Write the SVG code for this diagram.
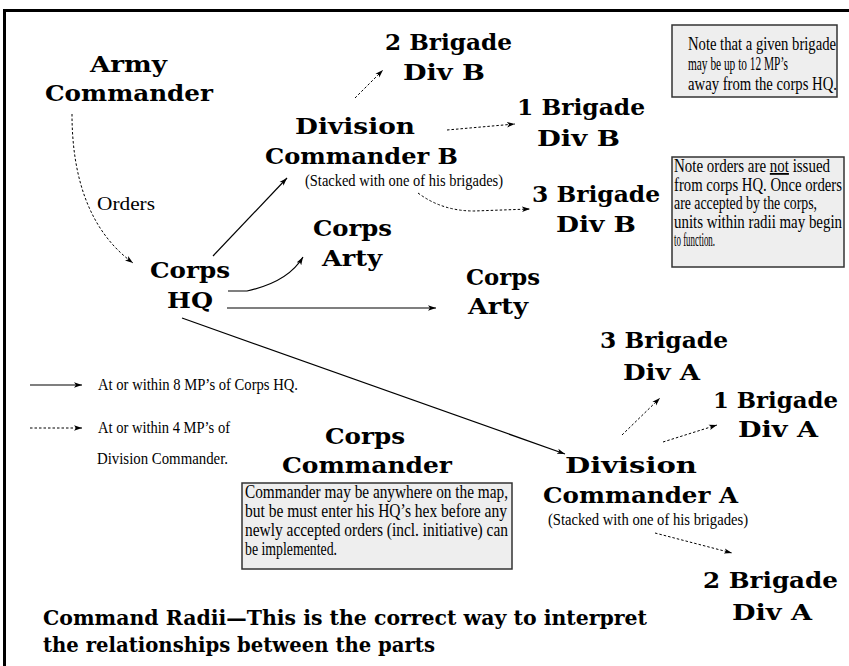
<svg xmlns="http://www.w3.org/2000/svg" width="849" height="666" viewBox="0 0 849 666">
<style>
.lbl{font-family:"DejaVu Serif","Liberation Serif",serif;font-weight:bold;font-size:23px;fill:#000}
.ttl{font-family:"DejaVu Serif","Liberation Serif",serif;font-weight:bold;font-size:20px;fill:#000}
.note{font-family:"Liberation Serif","Times New Roman",serif;font-size:18px;fill:#000}
.small{font-family:"Liberation Serif","Times New Roman",serif;font-size:16px;fill:#000}
.box{fill:#eeeeee;stroke:#333;stroke-width:1.5}
.solid{fill:none;stroke:#000;stroke-width:1.2}
.dash{fill:none;stroke:#000;stroke-width:1;stroke-dasharray:2.5,2}
</style>
<defs>
<marker id="ah" markerUnits="userSpaceOnUse" markerWidth="9" markerHeight="7" refX="8" refY="3.5" orient="auto">
<path d="M0,0.8 L8,3.5 L0,6.2 L2,3.5 Z" fill="#000"/>
</marker>
</defs>
<rect width="849" height="666" fill="#fff"/>
<g id="frame">
<line x1="3" y1="10.5" x2="849" y2="10.5" stroke="#000" stroke-width="3"/>
<line x1="4.5" y1="9" x2="4.5" y2="666" stroke="#000" stroke-width="3"/>
</g>
<g id="connectors">
<path class="dash" d="M72,114 C72,175 88,230 133,263" marker-end="url(#ah)"/>
<line class="solid" x1="213" y1="256" x2="287" y2="178" marker-end="url(#ah)"/>
<path class="solid" d="M228,291 L247,291 Q288,282 303,257" marker-end="url(#ah)"/>
<line class="solid" x1="227" y1="308" x2="436" y2="308" marker-end="url(#ah)"/>
<line class="solid" x1="182" y1="318" x2="565" y2="454" marker-end="url(#ah)"/>
<line class="dash" x1="355" y1="98" x2="383" y2="70" marker-end="url(#ah)"/>
<line class="dash" x1="447" y1="130" x2="515" y2="124" marker-end="url(#ah)"/>
<path class="dash" d="M418,193 Q442,211 474,211 L530,209" marker-end="url(#ah)"/>
<line class="dash" x1="622" y1="435" x2="660" y2="398" marker-end="url(#ah)"/>
<line class="dash" x1="663" y1="442" x2="717" y2="425" marker-end="url(#ah)"/>
<line class="dash" x1="655" y1="533" x2="732" y2="553" marker-end="url(#ah)"/>
</g>
<g id="army-commander">
<text class="lbl" x="90" y="72" textLength="77" lengthAdjust="spacingAndGlyphs">Army</text>
<text class="lbl" x="45" y="101" textLength="168" lengthAdjust="spacingAndGlyphs">Commander</text>
</g>
<g id="orders-label">
<text class="note" x="97" y="210" textLength="58" lengthAdjust="spacingAndGlyphs">Orders</text>
</g>
<g id="corps-hq">
<text class="lbl" x="150" y="278" textLength="80" lengthAdjust="spacingAndGlyphs">Corps</text>
<text class="lbl" x="167" y="308" textLength="46" lengthAdjust="spacingAndGlyphs">HQ</text>
</g>
<g id="corps-arty-1">
<text class="lbl" x="313" y="236" textLength="79" lengthAdjust="spacingAndGlyphs">Corps</text>
<text class="lbl" x="322" y="266" textLength="60" lengthAdjust="spacingAndGlyphs">Arty</text>
</g>
<g id="corps-arty-2">
<text class="lbl" x="466" y="285" textLength="74" lengthAdjust="spacingAndGlyphs">Corps</text>
<text class="lbl" x="468" y="314" textLength="60" lengthAdjust="spacingAndGlyphs">Arty</text>
</g>
<g id="div-cmdr-b">
<text class="lbl" x="295" y="134" textLength="120" lengthAdjust="spacingAndGlyphs">Division</text>
<text class="lbl" x="265" y="164" textLength="193" lengthAdjust="spacingAndGlyphs">Commander B</text>
<text class="small" x="305" y="186" textLength="198" lengthAdjust="spacingAndGlyphs">(Stacked with one of his brigades)</text>
</g>
<g id="brig-2-b">
<text class="lbl" x="385" y="50" textLength="127" lengthAdjust="spacingAndGlyphs">2 Brigade</text>
<text class="lbl" x="403" y="80" textLength="82" lengthAdjust="spacingAndGlyphs">Div B</text>
</g>
<g id="brig-1-b">
<text class="lbl" x="517" y="115" textLength="128" lengthAdjust="spacingAndGlyphs">1 Brigade</text>
<text class="lbl" x="537" y="146" textLength="83" lengthAdjust="spacingAndGlyphs">Div B</text>
</g>
<g id="brig-3-b">
<text class="lbl" x="532" y="202" textLength="128" lengthAdjust="spacingAndGlyphs">3 Brigade</text>
<text class="lbl" x="556" y="232" textLength="80" lengthAdjust="spacingAndGlyphs">Div B</text>
</g>
<g id="note-12mp">
<rect class="box" x="672" y="25" width="165" height="72"/>
<text class="note" x="688" y="50" textLength="148" lengthAdjust="spacingAndGlyphs">Note that a given brigade</text>
<text class="note" x="688" y="70" textLength="100" lengthAdjust="spacingAndGlyphs">may be up to 12 MP’s</text>
<text class="note" x="688" y="90" textLength="149" lengthAdjust="spacingAndGlyphs">away from the corps HQ.</text>
</g>
<g id="note-orders">
<rect class="box" x="672" y="157" width="172" height="110"/>
<text class="note" x="674" y="172" textLength="156" lengthAdjust="spacingAndGlyphs">Note orders are <tspan text-decoration="underline">not</tspan> issued</text>
<text class="note" x="674" y="190.5" textLength="168" lengthAdjust="spacingAndGlyphs">from corps HQ. Once orders</text>
<text class="note" x="674" y="209" textLength="143" lengthAdjust="spacingAndGlyphs">are accepted by the corps,</text>
<text class="note" x="674" y="227.5" textLength="168" lengthAdjust="spacingAndGlyphs">units within radii may begin</text>
<text class="note" x="674" y="246" textLength="41" lengthAdjust="spacingAndGlyphs">to function.</text>
</g>
<g id="legend">
<line class="solid" x1="30" y1="385" x2="82" y2="385" stroke="#999" marker-end="url(#ah)"/>
<text class="small" x="98" y="390" textLength="200" lengthAdjust="spacingAndGlyphs">At or within 8 MP’s of Corps HQ.</text>
<line class="dash" x1="30" y1="428" x2="82" y2="428" marker-end="url(#ah)"/>
<text class="small" x="98" y="433" textLength="132" lengthAdjust="spacingAndGlyphs">At or within 4 MP’s of</text>
<text class="small" x="97" y="464" textLength="131" lengthAdjust="spacingAndGlyphs">Division Commander.</text>
</g>
<g id="brig-3-a">
<text class="lbl" x="600" y="348" textLength="128" lengthAdjust="spacingAndGlyphs">3 Brigade</text>
<text class="lbl" x="623" y="380" textLength="77" lengthAdjust="spacingAndGlyphs">Div A</text>
</g>
<g id="brig-1-a">
<text class="lbl" x="713" y="408" textLength="125" lengthAdjust="spacingAndGlyphs">1 Brigade</text>
<text class="lbl" x="738" y="437" textLength="80" lengthAdjust="spacingAndGlyphs">Div A</text>
</g>
<g id="corps-commander">
<text class="lbl" x="325" y="444" textLength="80" lengthAdjust="spacingAndGlyphs">Corps</text>
<text class="lbl" x="282" y="473" textLength="170" lengthAdjust="spacingAndGlyphs">Commander</text>
<rect class="box" x="242" y="483" width="270" height="86"/>
<text class="note" x="245" y="498" textLength="263" lengthAdjust="spacingAndGlyphs">Commander may be anywhere on the map,</text>
<text class="note" x="245" y="517" textLength="262" lengthAdjust="spacingAndGlyphs">but be must enter his HQ’s hex before any</text>
<text class="note" x="245" y="536" textLength="263" lengthAdjust="spacingAndGlyphs">newly accepted orders (incl. initiative) can</text>
<text class="note" x="245" y="555" textLength="92" lengthAdjust="spacingAndGlyphs">be implemented.</text>
</g>
<g id="div-cmdr-a">
<text class="lbl" x="565" y="473" textLength="132" lengthAdjust="spacingAndGlyphs">Division</text>
<text class="lbl" x="543" y="503" textLength="195" lengthAdjust="spacingAndGlyphs">Commander A</text>
<text class="small" x="548" y="525" textLength="200" lengthAdjust="spacingAndGlyphs">(Stacked with one of his brigades)</text>
</g>
<g id="brig-2-a">
<text class="lbl" x="703" y="588" textLength="135" lengthAdjust="spacingAndGlyphs">2 Brigade</text>
<text class="lbl" x="732" y="620" textLength="80" lengthAdjust="spacingAndGlyphs">Div A</text>
</g>
<g id="title">
<text class="ttl" x="43" y="625" textLength="604" lengthAdjust="spacingAndGlyphs">Command Radii—This is the correct way to interpret</text>
<text class="ttl" x="43" y="652" textLength="392" lengthAdjust="spacingAndGlyphs">the relationships between the parts</text>
</g>
</svg>
